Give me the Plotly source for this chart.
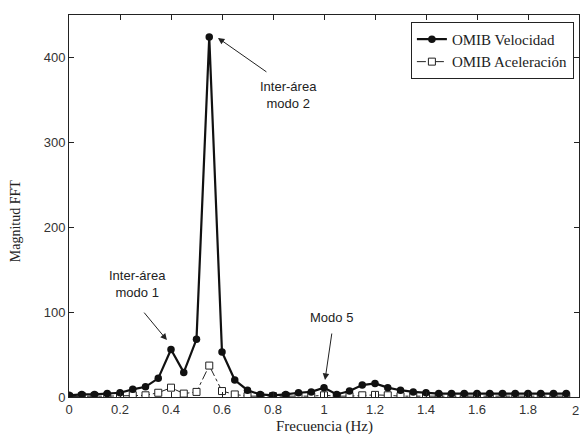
import plotly.graph_objects as go

# Frequencies (Hz)
freq = [round(0.05 * i, 2) for i in range(40)]

# FFT magnitude, OMIB velocity
vel = [2, 3, 3, 4, 5, 9, 12, 22, 56, 29,
       68, 424, 53, 20, 8, 3, 2, 3, 5, 6,
       11, 3, 7, 14, 16, 11, 8, 6, 5, 4,
       4, 4, 4, 4, 4, 4, 4, 4, 4, 4]

# FFT magnitude, OMIB acceleration
acc = [0.5, 1, 1, 1, 1.5, 2, 2, 5, 11, 4,
       6, 37, 7, 3, 1, 1, 1, 1, 1, 1,
       2, 1, 1, 2, 2.5, 2, 1, 1, 1, 1,
       1, 1, 1, 1, 1, 1, 1, 1, 1, 1]

xticks = [0, 0.2, 0.4, 0.6, 0.8, 1, 1.2, 1.4, 1.6, 1.8, 2]
xticklabels = ["0", "0.2", "0.4", "0.6", "0.8", "1", "1.2", "1.4", "1.6", "1.8", "2"]
yticks = [0, 100, 200, 300, 400]

fig = go.Figure()
fig.add_trace(go.Scatter(
    x=freq, y=acc, name="OMIB Aceleración", mode="lines+markers",
    line=dict(color="#222", width=1, dash="dashdot"),
    marker=dict(symbol="square", size=7, color="white",
                line=dict(color="#222", width=1)),
))
fig.add_trace(go.Scatter(
    x=freq, y=vel, name="OMIB Velocidad", mode="lines+markers",
    line=dict(color="#111", width=2.2),
    marker=dict(symbol="circle", size=7.5, color="#111"),
))

tick_font = dict(family="Liberation Sans, Arial, sans-serif", size=13, color="#333")
ann_font = dict(family="Liberation Sans, Arial, sans-serif", size=13, color="#222")
serif = "Liberation Serif, Times New Roman, serif"
# arrows
for (tx, ty, ax, ay) in [(0.384, 67, -24, -29), (0.584, 423, 50, 35), (1.004, 20, 7, -48)]:
    fig.add_annotation(x=tx, y=ty, xref="x", yref="y", text="", showarrow=True,
                       ax=ax, ay=ay, arrowhead=2, arrowsize=1.3, arrowwidth=1,
                       arrowcolor="#222")
# labels
fig.add_annotation(x=0.267, y=133, xref="x", yref="y", text="Inter-área<br>modo 1",
                   showarrow=False, font=ann_font)
fig.add_annotation(x=0.859, y=356, xref="x", yref="y", text="Inter-área<br>modo 2",
                   showarrow=False, font=ann_font)
fig.add_annotation(x=1.031, y=94, xref="x", yref="y", text="Modo 5",
                   showarrow=False, font=ann_font)

# last x tick label (plotly drops it at the very edge)
fig.add_annotation(x=xticks[-1], y=-13 / 382, xref="x", yref="paper", yanchor="middle",
                   xanchor="right", xshift=2,
                   text=xticklabels[-1], showarrow=False, font=tick_font)

# axis titles
fig.add_annotation(x=0.5, y=-30 / 382, xref="paper", yref="paper", yanchor="middle",
                   text="Frecuencia (Hz)", showarrow=False,
                   font=dict(family=serif, size=15, color="#222"))
fig.add_annotation(x=-54 / 510, y=0.46, xref="paper", yref="paper", xanchor="center",
                   text="Magnitud FFT", showarrow=False, textangle=-90,
                   font=dict(family=serif, size=14, color="#222"))

axis_common = dict(showline=True, linecolor="#222", linewidth=1, mirror="ticks",
                   ticks="inside", ticklen=5, tickcolor="#222", showgrid=False,
                   zeroline=False, automargin=False, tickfont=tick_font)

fig.update_xaxes(range=[0, 2], tickvals=xticks, ticktext=xticklabels[:-1] + [""], **axis_common)
fig.update_yaxes(range=[0, 450], tickvals=yticks, **axis_common)

fig.update_layout(
    width=582, height=436,
    margin=dict(l=69, r=3, t=15, b=39, autoexpand=False),
    paper_bgcolor="white", plot_bgcolor="white",
    showlegend=True,
    legend=dict(x=0.99, y=0.982, xanchor="right", yanchor="top",
                bgcolor="white", bordercolor="#222", borderwidth=1,
                traceorder="reversed", tracegroupgap=0, itemwidth=30,
                font=dict(family=serif, size=15, color="#222")),
)

fig.write_html("out.html", config={"displayModeBar": False},
               post_script="document.body.style.margin='0';document.body.style.overflow='hidden';")
